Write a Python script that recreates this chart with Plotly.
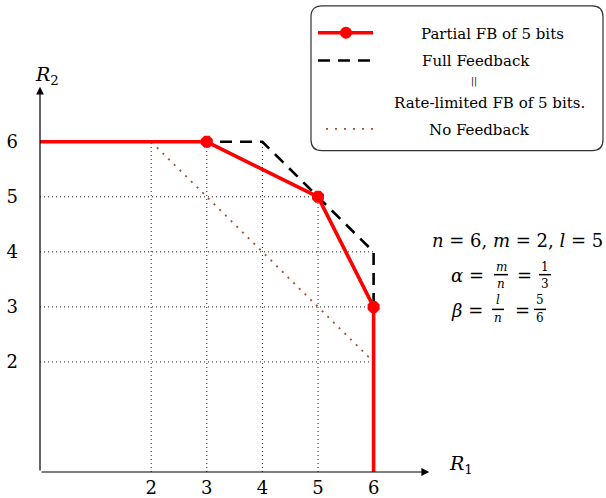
import numpy as np
import plotly.graph_objects as go

# ---- data ----
partial_x = [0, 3, 5, 6, 6]
partial_y = [6, 6, 5, 3, 0]
partial_mx = [3, 5, 6]
partial_my = [6, 5, 3]
full_x = [0, 4, 6, 6]
full_y = [6, 6, 4, 0]
nofb_x = [2, 6]
nofb_y = [6, 2]
x_ticks = [2, 3, 4, 5, 6]
y_ticks = [2, 3, 4, 5, 6]
grid_v_vals = [2, 3, 4, 5]
grid_h_vals = [2, 3, 4, 5]
axis_max = 7

W, H = 606, 498
L, B = 40, 22
XR = [0, (W - L) / 55.6]
YR = [0, (H - B) / 55.5]

def px(xp):
    return XR[0] + (xp - L) / (W - L) * (XR[1] - XR[0])

def py(yp):
    return YR[0] + (H - B - yp) / (H - B) * (YR[1] - YR[0])

SERIF = "DejaVu Serif"
fig = go.Figure()

def full_top(xv):
    return float(np.interp(xv, full_x[:3], full_y[:3]))

def full_right(yv):
    if yv <= full_y[2]:
        return float(full_x[2])
    return float(np.interp(yv, full_y[1:3][::-1], full_x[1:3][::-1]))

shapes = []
for g in grid_v_vals:
    shapes.append(dict(type="line", xref="x", yref="y", x0=g, x1=g, y0=0, y1=full_top(g),
                       line=dict(color="#222", width=1, dash="1px,3px"), layer="below"))
for g in grid_h_vals:
    shapes.append(dict(type="line", xref="x", yref="y", x0=0, x1=full_right(g), y0=g, y1=g,
                       line=dict(color="#222", width=1, dash="1px,3px"), layer="below"))

fig.add_trace(go.Scatter(x=nofb_x, y=nofb_y, mode="lines",
                         line=dict(color="#a0522d", width=1.8, dash="2px,6px"), showlegend=False))
fig.add_trace(go.Scatter(x=full_x, y=full_y, mode="lines",
                         line=dict(color="black", width=2.6, dash="12px,8px"), showlegend=False))
fig.add_trace(go.Scatter(x=partial_x, y=partial_y, mode="lines",
                         line=dict(color="red", width=3.6), showlegend=False))
fig.add_trace(go.Scatter(x=partial_mx, y=partial_my, mode="markers",
                         marker=dict(color="red", size=13, symbol="octagon"), showlegend=False))

ann = []
ann.append(dict(x=0, y=axis_max, ax=0, ay=0, xref="x", yref="y", axref="x", ayref="y",
                text="", showarrow=True, arrowhead=2, arrowsize=1.3, arrowwidth=1.2, arrowcolor="black"))
ann.append(dict(x=axis_max, y=0, ax=0, ay=0, xref="x", yref="y", axref="x", ayref="y",
                text="", showarrow=True, arrowhead=2, arrowsize=1.3, arrowwidth=1.2, arrowcolor="black"))

def txt(xp, yp, t, size=19, xanchor="center"):
    ann.append(dict(x=px(xp), y=py(yp), xref="x", yref="y", text=t, showarrow=False,
                    xanchor=xanchor, yanchor="middle", font=dict(family=SERIF, size=size, color="black")))

def bar(x0p, x1p, yp):
    shapes.append(dict(type="line", xref="x", yref="y", x0=px(x0p), x1=px(x1p), y0=py(yp), y1=py(yp),
                       line=dict(color="black", width=1.5), layer="above"))

txt(47, 76, "<i>R</i><sub>2</sub>", 19)
txt(461, 468, "<i>R</i><sub>1</sub>", 19)

txt(517, 243, "<i>n</i> = 6, <i>m</i> = 2, <i>l</i> = 5", 18)
txt(467, 278, "<i>α</i> =", 18)
txt(501, 269, "<i>m</i>", 12); bar(494, 508, 277); txt(501, 286, "<i>n</i>", 12)
txt(524, 278, "=", 18)
txt(545, 269, "1", 12); bar(539, 551, 277); txt(545, 286, "3", 12)
txt(467, 313, "<i>β</i> =", 18)
txt(498, 303, "<i>l</i>", 12); bar(492, 504, 312); txt(498, 321, "<i>n</i>", 12)
txt(522, 313, "=", 18)
txt(540, 303, "5", 12); bar(534, 546, 312); txt(540, 321, "6", 12)

x0, x1, y0, y1, r = 311, 603, 6, 152, 11
path = (f"M {px(x0 + r)},{py(y0)} L {px(x1 - r)},{py(y0)} Q {px(x1)},{py(y0)} {px(x1)},{py(y0 + r)} "
        f"L {px(x1)},{py(y1 - r)} Q {px(x1)},{py(y1)} {px(x1 - r)},{py(y1)} "
        f"L {px(x0 + r)},{py(y1)} Q {px(x0)},{py(y1)} {px(x0)},{py(y1 - r)} "
        f"L {px(x0)},{py(y0 + r)} Q {px(x0)},{py(y0)} {px(x0 + r)},{py(y0)} Z")
shapes.append(dict(type="path", xref="x", yref="y", path=path, fillcolor="white",
                   line=dict(color="#333", width=1.2), layer="above"))
shapes.append(dict(type="line", xref="x", yref="y", x0=px(318), x1=px(373), y0=py(33), y1=py(33),
                   line=dict(color="red", width=3.4)))
shapes.append(dict(type="circle", xref="x", yref="y", x0=px(340), x1=px(352), y0=py(27), y1=py(39),
                   fillcolor="red", line=dict(color="red", width=0)))
shapes.append(dict(type="line", xref="x", yref="y", x0=px(318), x1=px(373), y0=py(61), y1=py(61),
                   line=dict(color="black", width=2.6, dash="12px,8px")))
shapes.append(dict(type="line", xref="x", yref="y", x0=px(326), x1=px(377), y0=py(130), y1=py(130),
                   line=dict(color="#a0522d", width=1.8, dash="2px,7px")))
txt(492, 34, "Partial FB of 5 bits", 15)
txt(476, 62, "Full Feedback", 15)
txt(474, 82, "||", 9)
txt(489, 104, "Rate-limited FB of 5 bits.", 15)
txt(479, 131, "No Feedback", 15)

fig.update_layout(
    width=W, height=H, margin=dict(l=L, r=0, t=0, b=B),
    plot_bgcolor="white", paper_bgcolor="white",
    shapes=shapes, annotations=ann, showlegend=False,
    font=dict(family=SERIF),
    xaxis=dict(range=XR, showgrid=False, zeroline=False, showline=False, tickvals=x_ticks,
               ticks="", ticklabelstandoff=3, tickfont=dict(family=SERIF, size=18, color="black")),
    yaxis=dict(range=YR, showgrid=False, zeroline=False, showline=False, tickvals=y_ticks,
               ticks="", ticklabelstandoff=21, tickfont=dict(family=SERIF, size=18, color="black")),
)
fig.write_html("out.html")
